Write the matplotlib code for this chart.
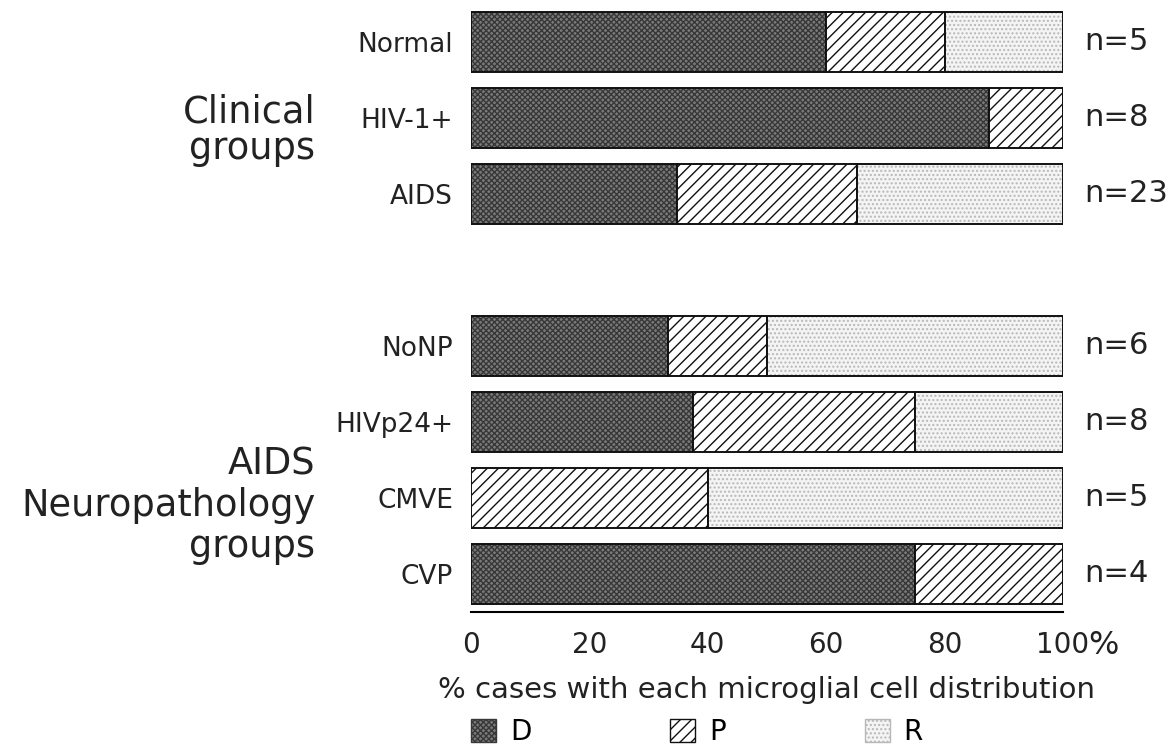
import matplotlib.pyplot as plt
from matplotlib.patches import Patch
from matplotlib.transforms import blended_transform_factory

# groups, top to bottom
clinical = ['Normal', 'HIV-1+', 'AIDS']
neuro = ['NoNP', 'HIVp24+', 'CMVE', 'CVP']
n_cases = [5, 8, 23, 6, 8, 5, 4]

# % of cases with each microglial cell distribution
pct_D = [60.0, 87.5, 34.8, 33.3, 37.5, 0.0, 75.0]
pct_P = [20.0, 12.5, 30.4, 16.7, 37.5, 40.0, 25.0]
pct_R = [20.0, 0.0, 34.8, 50.0, 25.0, 60.0, 0.0]

xticks = [0, 20, 40, 60, 80, 100]

plt.rcParams['font.family'] = ['DejaVu Sans']
plt.rcParams['hatch.linewidth'] = 1.0

labels = clinical + neuro
# one empty slot between the two blocks
ypos = list(range(len(clinical))) + [len(clinical) + 1 + i for i in range(len(neuro))]

fig = plt.figure(figsize=(11.76, 7.53), dpi=100)
ax = fig.add_axes([0.4005, 0.1873, 0.5034, 0.8074])

# fill, hatch colour, hatch
styles = {
    'D': ('#7a7a7a', '#383838', 'xxxxxx'),
    'P': ('white', '#111111', '///'),
    'R': ('#f4f4f4', '#b8b8b8', '....'),
}

h = 0.79
left = [0.0] * len(labels)
handles = []
for key, vals in [('D', pct_D), ('P', pct_P), ('R', pct_R)]:
    fc, hc, hatch = styles[key]
    ax.barh(ypos, vals, left=left, height=h, color=fc, edgecolor=hc,
            hatch=hatch, linewidth=0)
    ax.barh(ypos, vals, left=left, height=h, fill=False, edgecolor='#111111',
            linewidth=1.4)
    left = [l + v for l, v in zip(left, vals)]
    handles.append(Patch(facecolor=fc, edgecolor=hc, hatch=hatch,
                         linewidth=1, label=key))

for y, n in zip(ypos, n_cases):
    ax.annotate(f'n={n}', xy=(100, y), xytext=(15, 0),
                textcoords='offset points', va='center', ha='left',
                fontsize=22, color='#222222')

ax.set_xlim(0, 100)
ax.set_ylim(max(ypos) + 0.5, -0.5)
ax.set_yticks(ypos)
ax.set_yticklabels(labels, fontsize=19, color='#222222')
ax.set_xticks(xticks)
ax.set_xticklabels([str(t) for t in xticks], fontsize=20, color='#222222')
ax.tick_params(axis='both', length=0)
ax.tick_params(axis='y', pad=13)
ax.tick_params(axis='x', pad=14)
for s in ['top', 'right', 'left']:
    ax.spines[s].set_visible(False)
ax.spines['bottom'].set_linewidth(1.5)

trans = blended_transform_factory(ax.transData, ax.transAxes)
ax.annotate('%', xy=(100, 0), xycoords=trans, xytext=(18, -24),
            textcoords='offset points', ha='left', va='center',
            fontsize=23, color='#222222')

ax.set_xlabel('% cases with each microglial cell distribution',
              fontsize=21, color='#222222', labelpad=12)

ax.legend(handles=handles, ncol=3, loc='upper left',
          bbox_to_anchor=(0.0, -0.175), frameon=False, fontsize=20,
          handlelength=0.9, handleheight=0.9, handletextpad=0.5,
          columnspacing=5.0, borderaxespad=0, borderpad=0)

fig.text(0.268, 0.827, 'Clinical\ngroups', ha='right', va='center',
         fontsize=26.5, linespacing=0.95, color='#222222')
fig.text(0.268, 0.329, 'AIDS\nNeuropathology\ngroups', ha='right',
         va='center', fontsize=26.5, linespacing=1.15, color='#222222')

fig.savefig('out.png', dpi=100, facecolor='white')
